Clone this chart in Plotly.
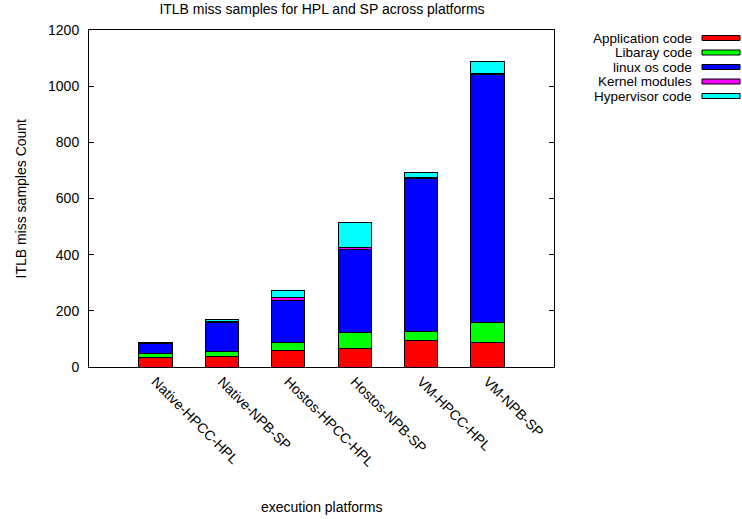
import plotly.graph_objects as go

# Execution platforms (x categories)
platforms = ["Native-HPCC-HPL", "Native-NPB-SP", "Hostos-HPCC-HPL",
             "Hostos-NPB-SP", "VM-HPCC-HPL", "VM-NPB-SP"]

# ITLB miss sample counts per code region, stacked bottom to top
series_names = ["Application code", "Libaray code", "linux os code",
                "Kernel modules", "Hypervisor code"]
application_code = [35, 39, 60, 67, 96, 88]
library_code = [14, 17, 28, 56, 32, 69]
linux_os_code = [33, 103, 148, 294, 545, 886]
kernel_modules = [2, 4, 10, 10, 1, 1]
hypervisor_code = [3, 5, 27, 89, 20, 43]
series_values = [application_code, library_code, linux_os_code,
                 kernel_modules, hypervisor_code]
colors = ["#ff0000", "#00ff00", "#0000ff", "#ff00ff", "#00ffff"]

y_ticks = [0, 200, 400, 600, 800, 1000, 1200]

W, H = 742, 519
L, R, T, B = 89, 554, 30, 367  # plot area in pixels
FONT = dict(family="Liberation Sans, Arial, sans-serif", size=14, color="black")
KEY_FONT = dict(family="Liberation Sans, Arial, sans-serif", size=13.5, color="black")


def px_x(x):
    return (x - L) / (R - L)


def px_y(y):
    return (B - y) / (B - T)


fig = go.Figure()
for name, vals, color in zip(series_names, series_values, colors):
    fig.add_trace(go.Bar(
        x=platforms, y=vals, name=name,
        marker=dict(color=color, line=dict(color="black", width=1)),
        showlegend=False,
    ))

# key box: right-aligned labels with coloured swatches to their right
annotations = []
shapes = []
row_y = [38, 52.5, 67, 81.5, 96]
for name, color, y in zip(series_names, colors, row_y):
    annotations.append(dict(
        text=name, x=px_x(694), y=px_y(y), xref="paper", yref="paper",
        xanchor="right", yanchor="middle", showarrow=False, font=KEY_FONT,
    ))
    shapes.append(dict(
        type="rect", xref="paper", yref="paper",
        x0=px_x(702), x1=px_x(740), y0=px_y(y - 2.5), y1=px_y(y + 2.5),
        fillcolor=color, line=dict(color="black", width=1),
    ))

annotations.append(dict(
    text="execution platforms", x=0.5, y=px_y(507), xref="paper", yref="paper",
    xanchor="center", yanchor="middle", showarrow=False, font=FONT,
))
annotations.append(dict(
    text="ITLB miss samples Count", x=px_x(20), y=0.5, xref="paper", yref="paper",
    xanchor="center", yanchor="middle", showarrow=False, font=FONT, textangle=-90,
))

fig.update_layout(
    width=W, height=H,
    margin=dict(l=L, r=W - R, t=T, b=H - B),
    paper_bgcolor="white", plot_bgcolor="white",
    barmode="stack", bargap=0.5,
    font=FONT,
    title=dict(text="ITLB miss samples for HPL and SP across platforms",
               x=322 / W, xanchor="center",
               y=1 - 9 / H, yanchor="middle", font=FONT),
    annotations=annotations,
    shapes=shapes,
    xaxis=dict(
        range=[-1, 6], showline=True, linecolor="black", linewidth=1,
        mirror=True, ticks="", tickangle=45, showgrid=False,
        tickfont=FONT,
    ),
    yaxis=dict(
        range=[0, 1200], tickvals=y_ticks, showline=True, linecolor="black",
        linewidth=1, mirror="ticks", ticks="inside", ticklen=5,
        tickcolor="black", showgrid=False, zeroline=False, tickfont=FONT,
        ticklabelstandoff=6,
    ),
)

fig.write_html("out.html")
